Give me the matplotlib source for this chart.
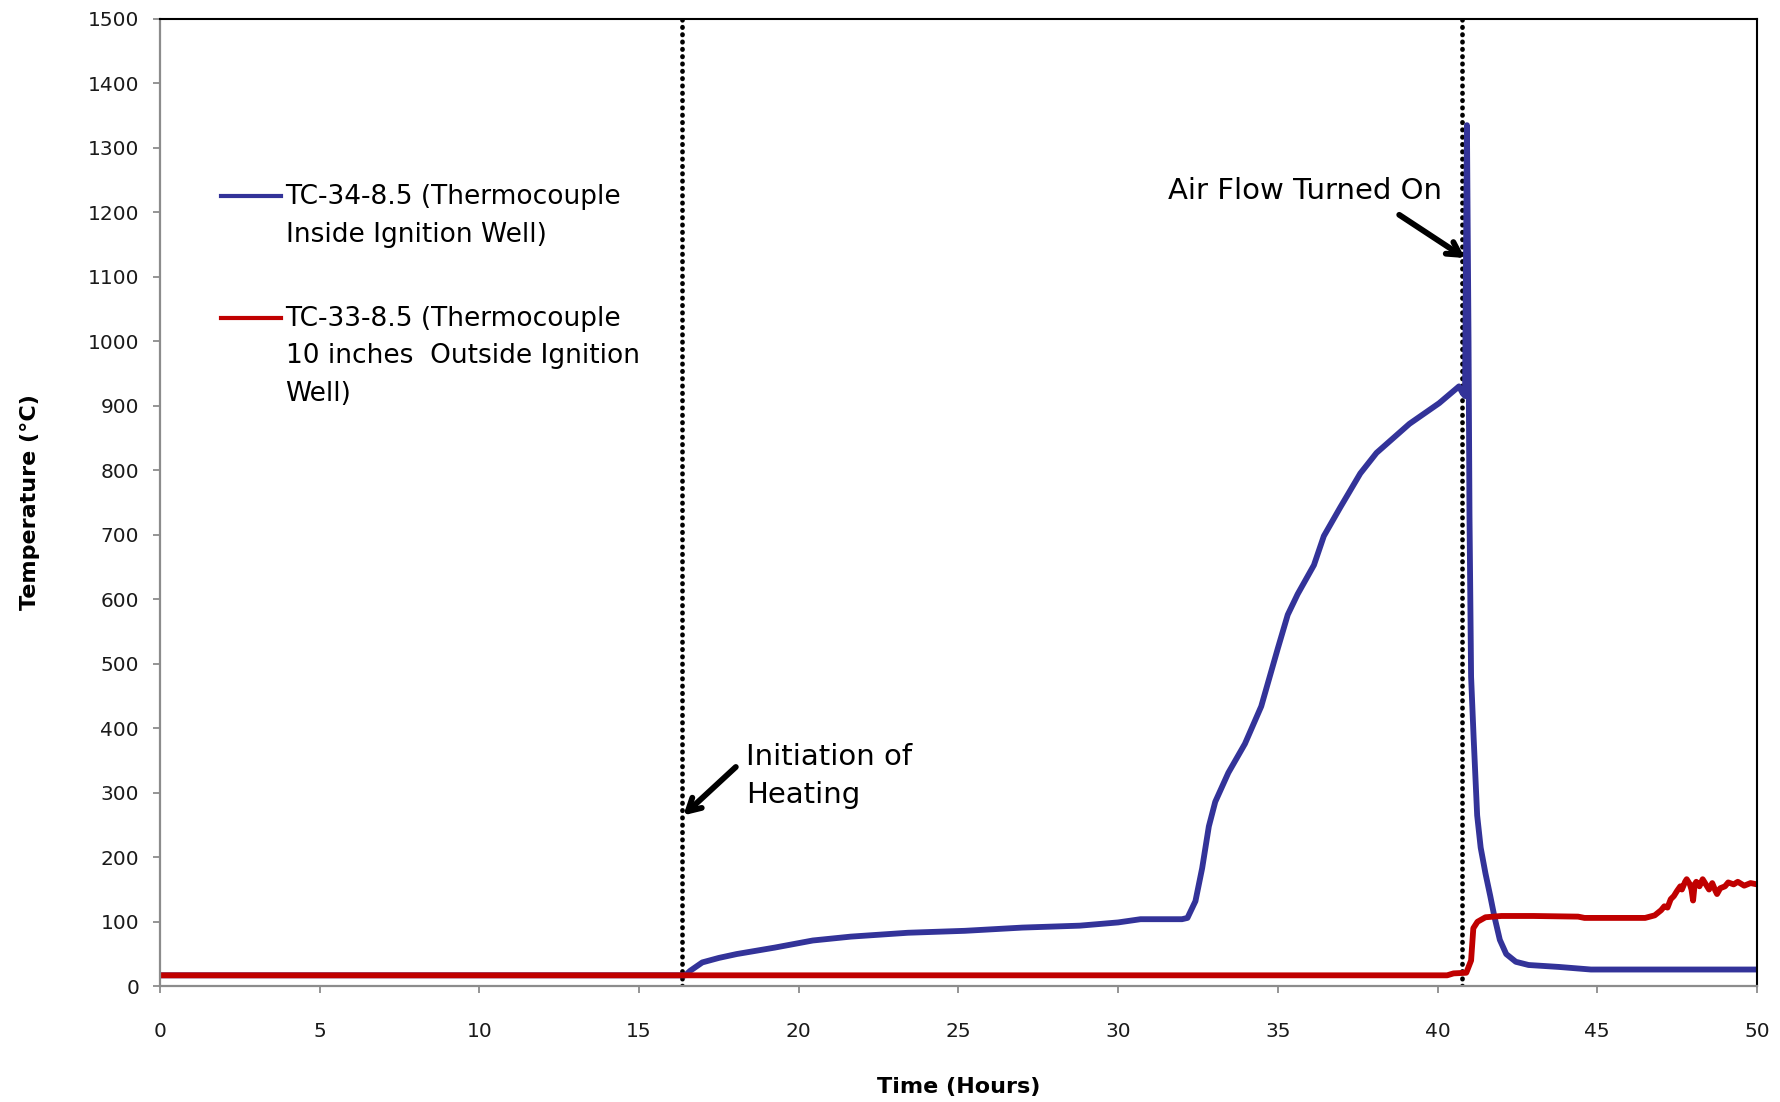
import matplotlib.pyplot as plt

# Datos (tiempo en horas, temperatura en grados C)
t_tc34 = [0.0, 16.45, 16.6, 16.98, 17.5, 18.06, 19.25, 20.44, 21.63, 23.42, 25.2,
          27.0, 28.8, 30.0, 30.7, 32.0, 32.17, 32.42, 32.63, 32.84, 33.04, 33.45,
          33.97, 34.48, 34.74, 35.0, 35.31, 35.62, 36.13, 36.44, 36.96, 37.58,
          38.09, 39.12, 40.05, 40.67, 40.78, 40.86, 40.92, 40.97, 41.0, 41.05,
          41.13, 41.24, 41.35, 41.5, 41.65, 41.78, 41.95, 42.15, 42.45, 42.85,
          43.8, 44.8, 50.0]
temp_tc34 = [17, 17, 24, 37, 44, 50, 60, 71, 77, 83, 86,
             91, 94, 99, 104, 104, 106, 132, 183, 248, 286, 331,
             376, 434, 479, 524, 576, 608, 653, 698, 743, 795,
             827, 872, 904, 930, 920, 915, 1335, 1000, 730, 480,
             385, 265, 215, 175, 140, 108, 72, 50, 38, 33,
             30, 26, 26]

t_tc33 = [0.0, 40.3, 40.5, 40.9, 41.05, 41.12, 41.25, 41.5, 42.0, 43.0, 44.4,
          44.6, 46.5, 46.8, 47.0, 47.1, 47.2, 47.3, 47.4, 47.5, 47.6, 47.65,
          47.75, 47.8, 47.9, 47.95, 48.0, 48.05, 48.1, 48.2, 48.3, 48.4, 48.5,
          48.6, 48.7, 48.75, 48.85, 49.0, 49.1, 49.27, 49.4, 49.6, 49.8, 50.0]
temp_tc33 = [17, 17, 20, 21, 40, 90, 100, 107, 109, 109, 108,
             106, 106, 110, 118, 124, 122, 135, 140, 148, 155, 150,
             162, 166, 158, 150, 133, 158, 162, 155, 166, 158, 150,
             160, 148, 143, 152, 155, 161, 158, 162, 156, 160, 158]

lineas_eventos = [16.35, 40.75]

etiqueta_34 = 'TC-34-8.5 (Thermocouple\nInside Ignition Well)'
etiqueta_33 = 'TC-33-8.5 (Thermocouple\n10 inches  Outside Ignition\nWell)'

AZUL = '#333399'
ROJO = '#C00000'
GRIS = '#8c8c8c'

plt.rcParams['font.family'] = 'DejaVu Sans'

fig = plt.figure(figsize=(17.81, 11.02), dpi=100)
ax = fig.add_axes([0.0898, 0.105, 0.8967, 0.878])

ax.plot(t_tc34, temp_tc34, color=AZUL, lw=4.2, label=etiqueta_34, solid_joinstyle='round')
ax.plot(t_tc33, temp_tc33, color=ROJO, lw=4.2, label=etiqueta_33, solid_joinstyle='round')

for x in lineas_eventos:
    ax.axvline(x, color='black', lw=3.4, linestyle=(0, (0.1, 1.45)),
               dash_capstyle='round', zorder=1)

ax.set_xlim(0, 50)
ax.set_ylim(0, 1500)
ax.set_xticks(range(0, 51, 5))
ax.set_yticks(range(0, 1501, 100))

ax.spines['left'].set_color(GRIS)
ax.spines['bottom'].set_color(GRIS)
ax.spines['left'].set_linewidth(1.6)
ax.spines['bottom'].set_linewidth(1.6)
ax.spines['top'].set_color('black')
ax.spines['right'].set_color('black')
ax.spines['top'].set_linewidth(1.5)
ax.spines['right'].set_linewidth(1.5)

ax.tick_params(axis='both', direction='out', length=5, width=1.3, color=GRIS,
               labelsize=14.5, labelcolor='#1a1a1a')
ax.tick_params(axis='x', pad=21)
ax.tick_params(axis='y', pad=10)

ax.set_xlabel('Time (Hours)', fontsize=16, fontweight='bold')
ax.set_ylabel('Temperature (°C)', fontsize=16, fontweight='bold')
ax.xaxis.set_label_coords(0.5, -0.094)
ax.yaxis.set_label_coords(-0.075, 0.5)

# Anotaciones
flecha = dict(arrowstyle='->,head_length=0.9,head_width=0.5',
              lw=4.2, color='black', shrinkA=0, shrinkB=0)
ax.annotate('', xy=(40.86, 1129), xytext=(38.8, 1196), arrowprops=flecha)
ax.text(40.15, 1233, 'Air Flow Turned On', fontsize=21, ha='right', va='center')

ax.annotate('', xy=(16.39, 265), xytext=(18.03, 340), arrowprops=flecha)
ax.text(18.35, 326, 'Initiation of\nHeating', fontsize=21, ha='left', va='center',
        linespacing=1.45)

# Leyenda
FS_LEY = 19
INTERLINEA = 1.58
leg = ax.legend(loc='upper left', bbox_to_anchor=(0.038, 0.829), frameon=False,
                fontsize=FS_LEY, handlelength=2.3, handletextpad=0.16,
                labelspacing=2.2, borderpad=0, borderaxespad=0)
paso = 27.0
for txt, linea in zip(leg.get_texts(), leg.legend_handles):
    txt.set_linespacing(INTERLINEA)
    n = txt.get_text().count('\n') + 1
    y = linea.get_ydata()
    linea.set_ydata([v + (n - 1) / 2 * paso + 1.5 for v in y])
    linea.set_linewidth(3.0)

fig.savefig('out.png', dpi=100)
